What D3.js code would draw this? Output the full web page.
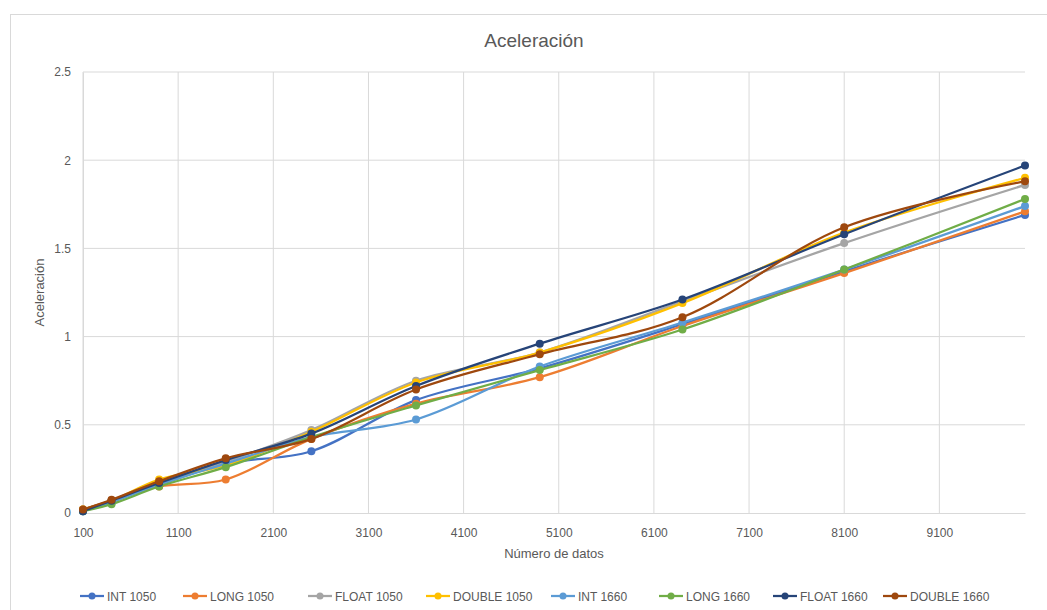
<!DOCTYPE html>
<html lang="es">
<head>
<meta charset="utf-8">
<title>Aceleración</title>
<script src="https://cdn.jsdelivr.net/npm/d3@7"></script>
<style>
  body { margin: 0; background: #fff; font-family: "Liberation Sans", Arial, sans-serif; }
  .tick text { fill: #595959; font-size: 12px; }
</style>
</head>
<body>
<script>
// data
var datos = [100, 400, 900, 1600, 2500, 3600, 4900, 6400, 8100, 10000];
var series = ["INT 1050", "LONG 1050", "FLOAT 1050", "DOUBLE 1050", "INT 1660", "LONG 1660", "FLOAT 1660", "DOUBLE 1660"];
var int1050    = [0.01, 0.07, 0.16, 0.28, 0.35, 0.64, 0.82, 1.07, 1.37, 1.69];
var long1050   = [0.02, 0.07, 0.15, 0.19, 0.42, 0.62, 0.77, 1.06, 1.36, 1.71];
var float1050  = [0.02, 0.07, 0.17, 0.29, 0.47, 0.75, 0.91, 1.20, 1.53, 1.86];
var double1050 = [0.02, 0.07, 0.19, 0.27, 0.46, 0.74, 0.91, 1.19, 1.59, 1.90];
var int1660    = [0.01, 0.06, 0.16, 0.28, 0.43, 0.53, 0.83, 1.08, 1.38, 1.74];
var long1660   = [0.01, 0.05, 0.15, 0.26, 0.43, 0.61, 0.81, 1.04, 1.38, 1.78];
var float1660  = [0.01, 0.07, 0.17, 0.30, 0.45, 0.72, 0.96, 1.21, 1.58, 1.97];
var double1660 = [0.02, 0.075, 0.18, 0.31, 0.42, 0.70, 0.90, 1.11, 1.62, 1.88];
var xTicks = [100, 1100, 2100, 3100, 4100, 5100, 6100, 7100, 8100, 9100];
var yTicks = [0, 0.5, 1, 1.5, 2, 2.5];

var valores = [int1050, long1050, float1050, double1050, int1660, long1660, float1660, double1660];
var colores = ["#4472C4", "#ED7D31", "#A5A5A5", "#FFC000", "#5B9BD5", "#70AD47", "#264478", "#9E480E"];

var width = 1047, height = 610;
var margin = {left: 83, right: 22, top: 72, bottom: 97};

var svg = d3.select("body").append("svg")
  .attr("width", width)
  .attr("height", height);

// chart border
svg.append("rect")
  .attr("x", 10.5).attr("y", 14.5)
  .attr("width", width).attr("height", height)
  .attr("fill", "none")
  .attr("stroke", "#d9d9d9");

var x = d3.scaleLinear()
  .domain([100, 10000])
  .range([margin.left, width - margin.right]);

var y = d3.scaleLinear()
  .domain([0, 2.5])
  .range([height - margin.bottom, margin.top]);

// horizontal gridlines
svg.append("g")
  .selectAll("line")
  .data(yTicks.filter(function(d) { return d > 0; }))
  .enter().append("line")
  .attr("x1", x(100)).attr("x2", x(10000))
  .attr("y1", function(d) { return y(d); })
  .attr("y2", function(d) { return y(d); })
  .attr("stroke", "#d9d9d9");

// vertical gridlines
svg.append("g")
  .selectAll("line")
  .data(xTicks)
  .enter().append("line")
  .attr("x1", function(d) { return x(d); })
  .attr("x2", function(d) { return x(d); })
  .attr("y1", y(0)).attr("y2", y(2.5))
  .attr("stroke", "#d9d9d9");

// x axis
var xAxis = svg.append("g")
  .attr("transform", "translate(0," + y(0) + ")")
  .call(d3.axisBottom(x).tickValues(xTicks).tickSize(0).tickPadding(15).tickFormat(d3.format("d")));
xAxis.select(".domain").attr("stroke", "#d9d9d9");

// y axis
var yAxis = svg.append("g")
  .attr("transform", "translate(" + x(100) + ",0)")
  .call(d3.axisLeft(y).tickValues(yTicks).tickSize(0).tickPadding(12).tickFormat(function(d) { return d; }));
yAxis.select(".domain").attr("stroke", "#d9d9d9");

// title
svg.append("text")
  .attr("x", (x(100) + x(10000)) / 2 - 20)
  .attr("y", 47)
  .attr("text-anchor", "middle")
  .attr("fill", "#595959")
  .style("font-size", "19px")
  .text("Aceleración");

// axis titles
svg.append("text")
  .attr("x", (x(100) + x(10000)) / 2)
  .attr("y", 558)
  .attr("text-anchor", "middle")
  .attr("fill", "#595959")
  .style("font-size", "13px")
  .text("Número de datos");

svg.append("text")
  .attr("transform", "translate(44," + (y(0) + y(2.5)) / 2 + ") rotate(-90)")
  .attr("text-anchor", "middle")
  .attr("fill", "#595959")
  .style("font-size", "13px")
  .text("Aceleración");

var line = d3.line()
  .x(function(d, i) { return x(datos[i]); })
  .y(function(d) { return y(d); })
  .curve(d3.curveCatmullRom.alpha(0.5));

var grupos = svg.selectAll(".serie")
  .data(valores)
  .enter().append("g")
  .attr("class", "serie");

grupos.append("path")
  .attr("d", function(d) { return line(d); })
  .attr("fill", "none")
  .attr("stroke", function(d, i) { return colores[i]; })
  .attr("stroke-width", 2.25)
  .attr("stroke-linecap", "round");

grupos.each(function(d, j) {
  d3.select(this).selectAll("circle")
    .data(d)
    .enter().append("circle")
    .attr("cx", function(v, i) { return x(datos[i]); })
    .attr("cy", function(v) { return y(v); })
    .attr("r", 4)
    .attr("fill", colores[j]);
});

// legend
var legendX = [80, 183, 308, 426, 551, 659, 773, 883];
var legend = svg.selectAll(".leg")
  .data(series)
  .enter().append("g")
  .attr("class", "leg")
  .attr("transform", function(d, i) { return "translate(" + legendX[i] + ",596)"; });

legend.append("line")
  .attr("x1", 0).attr("x2", 24)
  .attr("stroke", function(d, i) { return colores[i]; })
  .attr("stroke-width", 2.25);

legend.append("circle")
  .attr("cx", 12).attr("r", 3.5)
  .attr("fill", function(d, i) { return colores[i]; });

legend.append("text")
  .attr("x", 27).attr("y", 4.5)
  .attr("fill", "#595959")
  .style("font-size", "12px")
  .text(function(d) { return d; });
</script>
</body>
</html>
